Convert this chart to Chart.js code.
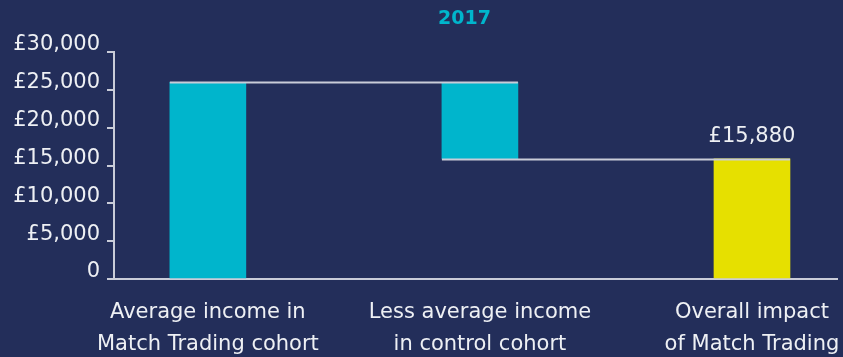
<!DOCTYPE html>
<html>
<head>
<meta charset="utf-8">
<title>Match Trading impact 2017</title>
<script src="https://cdn.jsdelivr.net/npm/chart.js@4/dist/chart.umd.min.js"></script>
<style>
    html, body { margin: 0; padding: 0; background: #232e5a; }
    #wrap { width: 843px; height: 357px; }
</style>
</head>
<body>
<div id="wrap"><canvas id="impactChart"></canvas></div>
<script>
const chartTitle = "2017";
const categories = [
    ["Average income in", "Match Trading cohort"],
    ["Less average income", "in control cohort"],
    ["Overall impact", "of Match Trading"],
];
const matchIncome = 26000;
const controlIncome = 10120;
const overallImpact = matchIncome - controlIncome; // 15,880
const barBottoms = [0, overallImpact, 0];
const barTops = [matchIncome, matchIncome, overallImpact];
const barColours = ["#00b5cc", "#00b5cc", "#e6e000"];
const yTicks = [0, 5000, 10000, 15000, 20000, 25000, 30000];

const lineColour = "#c9ccd8";
const textColour = "#eef0f4";
const fontFamily = "'DejaVu Sans', sans-serif";

const money = (v) => (v === 0 ? "0" : "£" + v.toLocaleString("en-GB"));

/** Connector lines between the waterfall steps */
const connectors = {
    id: "connectors",
    afterDatasetsDraw(chart) {
        const ctx = chart.ctx;
        const bars = chart.getDatasetMeta(0).data;
        const y = chart.scales.y;
        ctx.save();
        ctx.strokeStyle = lineColour;
        ctx.lineWidth = 2;
        for (let i = 0; i < bars.length - 1; i++) {
            // level shared by this bar and the next one
            const level = barTops[i] === barTops[i + 1] ? barTops[i] : barBottoms[i];
            const py = Math.round(y.getPixelForValue(level)) + 0.5;
            ctx.beginPath();
            ctx.moveTo(bars[i].x - bars[i].width / 2, py);
            ctx.lineTo(bars[i + 1].x + bars[i + 1].width / 2, py);
            ctx.stroke();
        }
        ctx.restore();
    },
};

/** Value above the final bar, plus the year heading */
const labels = {
    id: "labels",
    afterDraw(chart) {
        const ctx = chart.ctx;
        const bars = chart.getDatasetMeta(0).data;
        const last = bars[bars.length - 1];
        ctx.save();
        ctx.fillStyle = textColour;
        ctx.font = "21px " + fontFamily;
        ctx.textAlign = "center";
        ctx.textBaseline = "alphabetic";
        ctx.fillText(money(overallImpact), last.x, last.y - 17);

        const area = chart.chartArea;
        ctx.fillStyle = "#00b5cc";
        ctx.font = "bold 19px " + fontFamily;
        ctx.textBaseline = "middle";
        ctx.fillText(chartTitle, (area.left + area.right) / 2 - 11, 19);
        ctx.restore();
    },
};

const points = categories.map((c, i) => ({ x: i, y: [barBottoms[i], barTops[i]] }));

new Chart(document.getElementById("impactChart"), {
    type: "bar",
    data: {
        datasets: [
            {
                data: points,
                backgroundColor: barColours,
                borderWidth: 0,
                barThickness: 76,
            },
        ],
    },
    options: {
        responsive: true,
        maintainAspectRatio: false,
        animation: false,
        layout: { padding: { top: 52, right: 6, left: 0, bottom: 0 } },
        plugins: {
            legend: { display: false },
            tooltip: { enabled: false },
        },
        scales: {
            x: {
                type: "linear",
                offset: false,
                min: -0.345,
                max: 2.3125,
                afterFit: (s) => { s.height = 78; s.paddingRight = 0; },
                border: { color: lineColour, width: 2 },
                grid: { display: false, offset: false },
                ticks: {
                    stepSize: 1,
                    includeBounds: false,
                    autoSkip: false,
                    maxRotation: 0,
                    padding: 10,
                    color: textColour,
                    font: { family: fontFamily, size: 21, lineHeight: 1.5 },
                    callback: (v) => categories[v],
                },
            },
            y: {
                min: 0,
                max: 30000,
                afterFit: (s) => { s.width = 114; },
                afterBuildTicks: (s) => { s.ticks = yTicks.map((v) => ({ value: v })); },
                border: { color: lineColour, width: 2 },
                grid: {
                    drawOnChartArea: false,
                    color: lineColour,
                    lineWidth: 2,
                    tickLength: 7,
                },
                ticks: {
                    padding: 7,
                    labelOffset: -7,
                    color: textColour,
                    font: { family: fontFamily, size: 21 },
                    callback: (v) => money(v),
                },
            },
        },
    },
    plugins: [connectors, labels],
});
</script>
</body>
</html>
